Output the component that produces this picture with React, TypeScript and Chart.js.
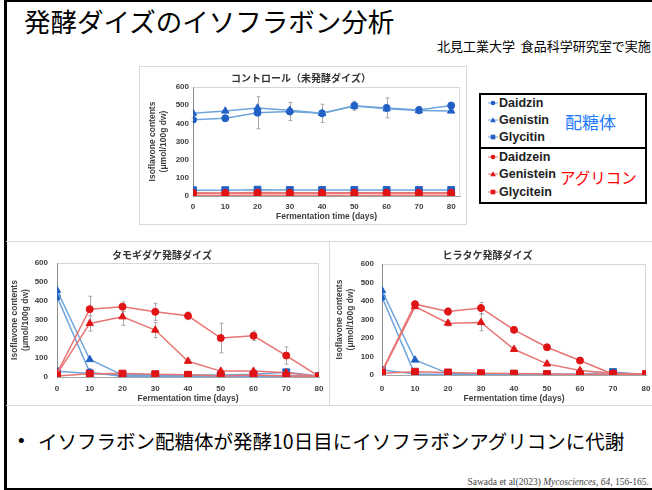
import React, { useEffect, useRef } from 'react';
import { Chart, registerables } from 'chart.js';
Chart.register(...registerables);

// ---------- data ----------
const days = [0, 10, 20, 30, 40, 50, 60, 70, 80];
const seriesNames = ['Daidzin', 'Genistin', 'Glycitin', 'Daidzein', 'Genistein', 'Glycitein'];

// Control (unfermented soybean)
const ctrlDaidzin = [420, 428, 458, 465, 455, 497, 485, 473, 498];
const ctrlGenistin = [456, 468, 485, 472, 455, 495, 480, 470, 468];
const ctrlGlycitin = [32, 32, 35, 33, 33, 33, 33, 33, 33];
const ctrlDaidzein = [18, 17, 19, 18, 18, 18, 18, 18, 18];
const ctrlGenistein = [14, 14, 15, 14, 14, 15, 14, 14, 14];
const ctrlGlycitein = [3, 3, 4, 3, 3, 3, 3, 3, 3];
const ctrlDaidzinErr = [10, 15, 88, 50, 50, 25, 55, 20, 15];

// Tamogitake fermented soybean
const tamDaidzin = [423, 25, 3, 3, 3, 3, 3, 3, 3];
const tamGenistin = [456, 92, 10, 8, 8, 6, 6, 8, 3];
const tamGlycitin = [30, 18, 12, 12, 10, 10, 15, 25, 5];
const tamDaidzein = [20, 357, 370, 343, 322, 205, 217, 113, 3];
const tamGenistein = [15, 282, 317, 247, 83, 31, 31, 22, 3];
const tamGlycitein = [5, 17, 18, 15, 12, 5, 10, 5, 3];
const tamDaidzeinErr = [0, 68, 25, 45, 20, 78, 25, 45, 0];
const tamGenisteinErr = [0, 40, 45, 40, 10, 5, 5, 5, 0];

// Hiratake fermented soybean
const hirDaidzin = [421, 2, 2, 2, 2, 2, 2, 2, 2];
const hirGenistin = [457, 81, 9, 4, 3, 3, 3, 3, 3];
const hirGlycitin = [27, 5, 4, 4, 4, 4, 4, 16, 3];
const hirDaidzein = [20, 383, 343, 362, 244, 150, 78, 4, 3];
const hirGenistein = [15, 370, 280, 284, 139, 60, 24, 9, 3];
const hirGlycitein = [10, 18, 14, 10, 8, 5, 3, 5, 5];
const hirDaidzeinErr = [0, 15, 20, 30, 10, 15, 15, 5, 0];
const hirGenisteinErr = [0, 10, 15, 45, 10, 10, 10, 5, 0];

const yTickValues = [0, 100, 200, 300, 400, 500, 600];
const xTickValues = [0, 10, 20, 30, 40, 50, 60, 70, 80];

// ---------- styles ----------
const BLUE_MARK = '#2160c4';
const BLUE_LINE = '#6ea5dc';
const RED_MARK = '#e01414';
const RED_LINE = '#e87474';
const AXIS_TXT = '#404040';
const LATIN = '"Liberation Sans", Arial, sans-serif';
const JP = '"Noto Sans CJK JP", sans-serif';

const shapes = ['circle', 'triangle', 'rect', 'circle', 'triangle', 'rect'];

function makeDatasets(values: number[][], errs: (number[] | null)[]) {
  return values.map((vals, i) => {
    const blue = i < 3;
    const shape = shapes[i];
    return {
      label: seriesNames[i],
      data: days.map((d, k) => ({ x: d, y: vals[k] })),
      borderColor: blue ? BLUE_LINE : RED_LINE,
      backgroundColor: blue ? BLUE_MARK : RED_MARK,
      pointBackgroundColor: blue ? BLUE_MARK : RED_MARK,
      pointBorderColor: blue ? BLUE_MARK : RED_MARK,
      pointStyle: shape,
      pointRadius: shape === 'circle' ? 3.5 : shape === 'triangle' ? 4.2 : 4.8,
      pointBorderWidth: 1,
      borderWidth: 1.5,
      tension: 0,
      order: 6 - i,
      errors: errs[i],
    };
  });
}

const extrasPlugin = {
  id: 'extras',
  beforeDraw(chart: any) {
    const { ctx, chartArea: a } = chart;
    ctx.save();
    ctx.strokeStyle = '#d6d6d6';
    ctx.lineWidth = 1;
    ctx.strokeRect(a.left + 0.5, a.top + 0.5, a.right - a.left - 1, a.bottom - a.top);
    ctx.restore();
  },
  beforeDatasetsDraw(chart: any) {
    const { ctx, scales } = chart;
    const xs = scales.x, ys = scales.y;
    ctx.save();
    ctx.strokeStyle = '#a8a8a8';
    ctx.lineWidth = 1;
    chart.data.datasets.forEach((d: any) => {
      if (!d.errors) return;
      d.data.forEach((p: any, i: number) => {
        const e = d.errors[i];
        if (!e) return;
        const px = Math.round(xs.getPixelForValue(p.x)) + 0.5;
        const y1 = ys.getPixelForValue(p.y + e);
        const y2 = ys.getPixelForValue(Math.max(0, p.y - e));
        ctx.beginPath();
        ctx.moveTo(px, y1); ctx.lineTo(px, y2);
        ctx.moveTo(px - 2, y1); ctx.lineTo(px + 2, y1);
        ctx.moveTo(px - 2, y2); ctx.lineTo(px + 2, y2);
        ctx.stroke();
      });
    });
    ctx.restore();
  },
};

type P = {
  title: string;
  datasets: any[];
  xMax: number;
  yW: number;
  xH: number;
  tPadTop: number;
  tPadBottom: number;
  yTickPad: number;
  xTickPad: number;
  yTitlePad: number;
  xTitlePad: number;
  padRight: number;
};

function makeConfig(p: P): any {
  return {
    type: 'line',
    data: { datasets: p.datasets },
    plugins: [extrasPlugin],
    options: {
      animation: false,
      responsive: false,
      devicePixelRatio: 1,
      layout: { padding: { left: 0, right: p.padRight, top: 0, bottom: 0 } },
      plugins: {
        legend: { display: false },
        tooltip: { enabled: false },
        title: {
          display: true,
          text: p.title,
          color: '#333333',
          font: { family: JP, size: 10, weight: 'bold', lineHeight: 1.2 },
          padding: { top: p.tPadTop, bottom: p.tPadBottom },
        },
      },
      scales: {
        x: {
          type: 'linear',
          min: 0,
          max: p.xMax,
          afterBuildTicks: (s: any) => { s.ticks = xTickValues.map((v) => ({ value: v })); },
          afterFit: (s: any) => { s.height = p.xH; s.paddingLeft = 0; s.paddingRight = 0; },
          grid: { display: false, drawTicks: false },
          border: { display: true, color: '#a6a6a6', width: 1 },
          ticks: { padding: p.xTickPad, color: AXIS_TXT, font: { family: LATIN, size: 8, weight: 'bold' }, maxRotation: 0, autoSkip: false },
          title: {
            display: true,
            text: 'Fermentation time (days)',
            color: AXIS_TXT,
            font: { family: LATIN, size: 8.5, weight: 'bold', lineHeight: 1.2 },
            padding: { top: 0, bottom: p.xTitlePad },
          },
        },
        y: {
          type: 'linear',
          min: 0,
          max: 600,
          afterBuildTicks: (s: any) => { s.ticks = yTickValues.map((v) => ({ value: v })); },
          afterFit: (s: any) => { s.width = p.yW; s.paddingTop = 0; s.paddingBottom = 0; },
          grid: { display: false, drawTicks: false },
          border: { display: true, color: '#8c8c8c', width: 1 },
          ticks: { padding: p.yTickPad, color: AXIS_TXT, font: { family: LATIN, size: 8, weight: 'bold' } },
          title: {
            display: true,
            text: ['Isoflavone contents', '(\u03bcmol/100g dw)'],
            color: AXIS_TXT,
            font: { family: LATIN, size: 8.5, weight: 'bold', lineHeight: 1.2 },
            padding: { top: p.yTitlePad, bottom: 0 },
          },
        },
      },
    },
  };
}

function ChartBox(props: { p: P; left: number; top: number; width: number; height: number }) {
  const ref = useRef<HTMLCanvasElement>(null);
  useEffect(() => {
    const c = new Chart(ref.current as HTMLCanvasElement, makeConfig(props.p));
    return () => c.destroy();
  }, []);
  return (
    <canvas
      ref={ref}
      width={props.width}
      height={props.height}
      style={{ position: 'absolute', left: props.left, top: props.top, width: props.width, height: props.height }}
    />
  );
}

const ctrlP: P = {
  title: 'コントロール（未発酵ダイズ）',
  datasets: makeDatasets(
    [ctrlDaidzin, ctrlGenistin, ctrlGlycitin, ctrlDaidzein, ctrlGenistein, ctrlGlycitein],
    [ctrlDaidzinErr, null, null, null, null, null]
  ),
  xMax: 82.8, yW: 54, xH: 28, tPadTop: 6, tPadBottom: 3, yTickPad: 4, xTickPad: 6, yTitlePad: 9, xTitlePad: 2, padRight: 3,
};
const tamP: P = {
  title: 'タモギダケ発酵ダイズ',
  datasets: makeDatasets(
    [tamDaidzin, tamGenistin, tamGlycitin, tamDaidzein, tamGenistein, tamGlycitein],
    [null, null, null, tamDaidzeinErr, tamGenisteinErr, null]
  ),
  xMax: 80, yW: 52, xH: 28, tPadTop: 7, tPadBottom: 2, yTickPad: 9, xTickPad: 7, yTitlePad: 5, xTitlePad: 1, padRight: 10,
};
const hirP: P = {
  title: 'ヒラタケ発酵ダイズ',
  datasets: makeDatasets(
    [hirDaidzin, hirGenistin, hirGlycitin, hirDaidzein, hirGenistein, hirGlycitein],
    [null, null, null, hirDaidzeinErr, hirGenisteinErr, null]
  ),
  xMax: 80, yW: 53, xH: 30, tPadTop: 7, tPadBottom: 3, yTickPad: 8, xTickPad: 9, yTitlePad: 6, xTitlePad: 1, padRight: 6,
};

function Marker(props: { shape: string; color: string; line: string }) {
  const { shape, color, line } = props;
  return (
    <svg width={10} height={10} style={{ position: 'absolute', left: 0, top: 3 }}>
      <line x1={0} y1={5} x2={10} y2={5} stroke={line} strokeWidth={1} />
      {shape === 'circle' && <circle cx={5} cy={5} r={2.3} fill={color} />}
      {shape === 'triangle' && <polygon points="5,2.2 7.8,7.2 2.2,7.2" fill={color} />}
      {shape === 'rect' && <rect x={2.7} y={2.7} width={4.6} height={4.6} fill={color} />}
    </svg>
  );
}

export default function App() {
  useEffect(() => {
    document.body.style.margin = '0';
  }, []);
  const legendTops = [95, 112, 129, 149, 166, 184];
  return (
    <div style={{ position: 'absolute', left: 0, top: 0, width: 652, height: 490, overflow: 'hidden', background: '#fff' }}>
      {/* slide frame */}
      <div style={{ position: 'absolute', left: 4, top: 0, width: 700, height: 486, borderLeft: '3px solid #000', borderTop: '2px solid #000', borderBottom: '2px solid #000' }} />
      {/* title */}
      <div style={{ position: 'absolute', left: 24, top: 3, fontFamily: JP, fontSize: 26.5, lineHeight: '36px', color: '#000', whiteSpace: 'nowrap' }}>
        発酵ダイズのイソフラボン分析
      </div>
      <div style={{ position: 'absolute', left: 437, top: 37, fontFamily: JP, fontSize: 13, lineHeight: '17px', color: '#000', whiteSpace: 'nowrap' }}>
        北見工業大学&nbsp; 食品科学研究室で実施
      </div>
      {/* control panel */}
      <div style={{ position: 'absolute', left: 139, top: 66, width: 326, height: 157, border: '1px solid #d9d9d9' }} />
      <ChartBox p={ctrlP} left={139} top={66} width={327} height={158} />
      {/* legend box */}
      <div style={{ position: 'absolute', left: 479, top: 93, width: 164, height: 107, border: '2px solid #000' }} />
      <div style={{ position: 'absolute', left: 479, top: 147, width: 168, height: 2, background: '#000' }} />
      {seriesNames.map((n, i) => (
        <div key={n} style={{ position: 'absolute', left: 488, top: legendTops[i], height: 16, fontFamily: LATIN, fontWeight: 'bold', fontSize: 12.5, lineHeight: '16px', color: '#222', paddingLeft: 11, whiteSpace: 'nowrap' }}>
          <Marker shape={shapes[i]} color={i < 3 ? BLUE_MARK : RED_MARK} line={i < 3 ? BLUE_LINE : RED_LINE} />
          {n}
        </div>
      ))}
      <div style={{ position: 'absolute', left: 565, top: 110, fontFamily: JP, fontSize: 17, lineHeight: '24px', color: '#1f7bff', whiteSpace: 'nowrap' }}>配糖体</div>
      <div style={{ position: 'absolute', left: 560, top: 165, fontFamily: JP, fontSize: 15.5, lineHeight: '24px', color: '#ff0000', whiteSpace: 'nowrap' }}>アグリコン</div>
      {/* separators */}
      <div style={{ position: 'absolute', left: 6, top: 241, width: 646, height: 1, background: '#d9d9d9' }} />
      <div style={{ position: 'absolute', left: 6, top: 405, width: 646, height: 1, background: '#d9d9d9' }} />
      <div style={{ position: 'absolute', left: 329, top: 241, width: 1, height: 164, background: '#d9d9d9' }} />
      <ChartBox p={tamP} left={5} top={242} width={324} height={163} />
      <ChartBox p={hirP} left={329} top={242} width={323} height={163} />
      {/* bullet text */}
      <div style={{ position: 'absolute', left: 18, top: 427, fontFamily: LATIN, fontSize: 19, lineHeight: '28px', color: '#000' }}>•</div>
      <div style={{ position: 'absolute', left: 38, top: 427, fontFamily: JP, fontSize: 19.5, lineHeight: '28px', color: '#000', whiteSpace: 'nowrap' }}>
        イソフラボン配糖体が発酵10日目にイソフラボンアグリコンに代謝
      </div>
      <div style={{ position: 'absolute', right: 3, top: 477, fontFamily: '"Liberation Serif", serif', fontSize: 9.5, lineHeight: '11px', color: '#444', whiteSpace: 'nowrap' }}>
        Sawada et al(2023) <i>Mycosciences</i>, <i>64</i>, 156-165.
      </div>
    </div>
  );
}
